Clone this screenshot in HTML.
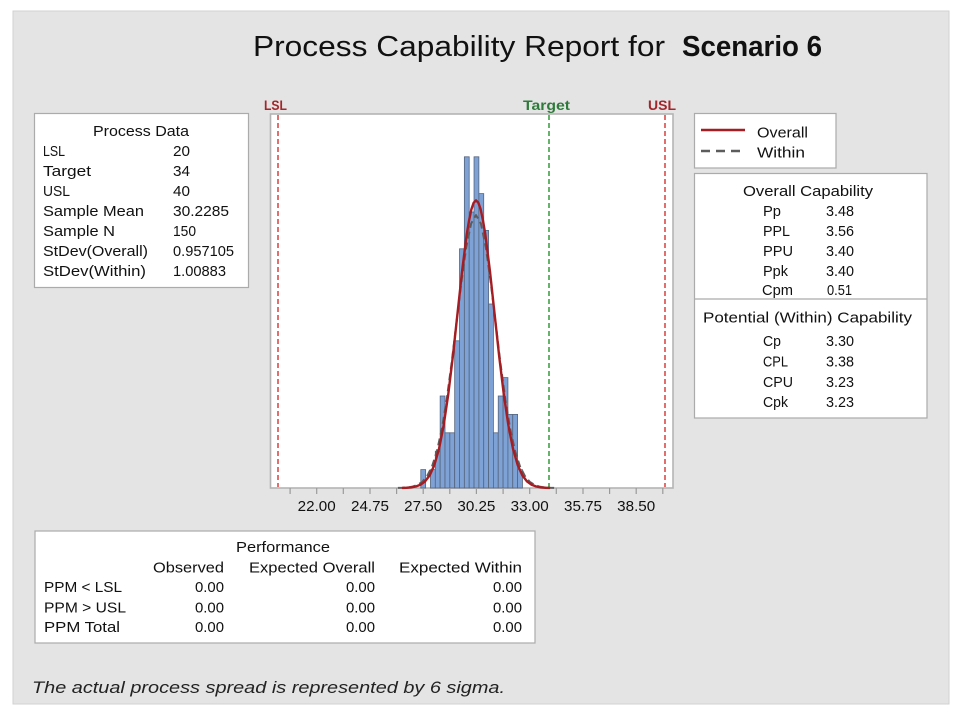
<!DOCTYPE html>
<html>
<head>
<meta charset="utf-8">
<style>
  html,body{margin:0;padding:0;background:#ffffff;}
  svg{display:block;}
  text{font-family:"Liberation Sans",Arial,sans-serif;fill:#111;}
</style>
</head>
<body>
<svg width="960" height="720" viewBox="0 0 960 720" xmlns="http://www.w3.org/2000/svg">
  <!-- background panel -->
  <rect x="0" y="0" width="960" height="720" fill="#ffffff"/>
  <rect x="13" y="11" width="936" height="693" fill="#e4e4e4" stroke="#d2d2d2" stroke-width="1"/>

  <!-- Title -->
  <text x="253" y="56" font-size="29" textLength="412" lengthAdjust="spacingAndGlyphs">Process Capability Report for</text>
  <text x="682" y="56" font-size="29" font-weight="bold" textLength="140" lengthAdjust="spacingAndGlyphs">Scenario 6</text>

  <!-- Process Data box -->
  <rect x="34.5" y="113.5" width="214" height="174" fill="#ffffff" stroke="#ababab" stroke-width="1.2"/>
  <g font-size="15">
    <text x="93" y="136" textLength="96" lengthAdjust="spacingAndGlyphs">Process Data</text>
    <text x="43" y="156" textLength="22" lengthAdjust="spacingAndGlyphs">LSL</text>
    <text x="43" y="176" textLength="48" lengthAdjust="spacingAndGlyphs">Target</text>
    <text x="43" y="196" textLength="27" lengthAdjust="spacingAndGlyphs">USL</text>
    <text x="43" y="216" textLength="101" lengthAdjust="spacingAndGlyphs">Sample Mean</text>
    <text x="43" y="236" textLength="72" lengthAdjust="spacingAndGlyphs">Sample N</text>
    <text x="43" y="256" textLength="105" lengthAdjust="spacingAndGlyphs">StDev(Overall)</text>
    <text x="43" y="276" textLength="103" lengthAdjust="spacingAndGlyphs">StDev(Within)</text>
    <text x="173" y="156" textLength="17" lengthAdjust="spacingAndGlyphs">20</text>
    <text x="173" y="176" textLength="17" lengthAdjust="spacingAndGlyphs">34</text>
    <text x="173" y="196" textLength="17" lengthAdjust="spacingAndGlyphs">40</text>
    <text x="173" y="216" textLength="56" lengthAdjust="spacingAndGlyphs">30.2285</text>
    <text x="173" y="236" textLength="23" lengthAdjust="spacingAndGlyphs">150</text>
    <text x="173" y="256" textLength="61" lengthAdjust="spacingAndGlyphs">0.957105</text>
    <text x="173" y="276" textLength="53" lengthAdjust="spacingAndGlyphs">1.00883</text>
  </g>

  <!-- Plot area -->
  <rect x="270.5" y="114" width="402.5" height="374" fill="#ffffff" stroke="#b4b4b4" stroke-width="1.6"/>

  <!-- Histogram bars -->
  <g fill="#7ea2d6" stroke="#55657e" stroke-width="0.8">
    <rect x="420.80" y="469.6" width="4.84" height="18.4"/>
    <rect x="430.48" y="469.6" width="4.84" height="18.4"/>
    <rect x="435.32" y="451.2" width="4.84" height="36.8"/>
    <rect x="440.16" y="396.0" width="4.84" height="92.0"/>
    <rect x="445.00" y="432.8" width="4.84" height="55.2"/>
    <rect x="449.84" y="432.8" width="4.84" height="55.2"/>
    <rect x="454.68" y="340.8" width="4.84" height="147.2"/>
    <rect x="459.52" y="248.8" width="4.84" height="239.2"/>
    <rect x="464.36" y="156.8" width="4.84" height="331.2"/>
    <rect x="469.20" y="212.0" width="4.84" height="276.0"/>
    <rect x="474.04" y="156.8" width="4.84" height="331.2"/>
    <rect x="478.88" y="193.6" width="4.84" height="294.4"/>
    <rect x="483.72" y="230.4" width="4.84" height="257.6"/>
    <rect x="488.56" y="304.0" width="4.84" height="184.0"/>
    <rect x="493.40" y="432.8" width="4.84" height="55.2"/>
    <rect x="498.24" y="396.0" width="4.84" height="92.0"/>
    <rect x="503.08" y="377.6" width="4.84" height="110.4"/>
    <rect x="507.92" y="414.4" width="4.84" height="73.6"/>
    <rect x="512.76" y="414.4" width="4.84" height="73.6"/>
    <rect x="517.60" y="469.6" width="4.84" height="18.4"/>
  </g>

  <!-- Spec lines -->
  <line x1="278" y1="115" x2="278" y2="487" stroke="#dc4b4b" stroke-width="1.6" stroke-dasharray="5,3"/>
  <line x1="549" y1="115" x2="549" y2="487" stroke="#3ea245" stroke-width="1.6" stroke-dasharray="5,3"/>
  <line x1="665" y1="115" x2="665" y2="487" stroke="#dc4b4b" stroke-width="1.6" stroke-dasharray="5,3"/>

  <!-- Within curve (dashed grey) -->
  <polyline fill="none" stroke="#5c5c5c" stroke-width="2" stroke-dasharray="7,4" stroke-linejoin="round"
    points="397.90,487.9 402.78,487.76 407.66,487.4 412.55,486.6 417.43,485.0 422.31,481.8 427.19,476.0 432.08,466.3 436.96,451.1 441.84,429.0 446.72,399.4 451.61,363.1 456.49,322.5 461.37,282.0 466.25,247.2 471.14,223.5 476.02,215.1 480.90,223.5 485.79,247.2 490.67,282.0 495.55,322.5 500.43,363.1 505.32,399.4 510.20,429.0 515.08,451.1 519.96,466.3 524.85,476.0 529.73,481.8 534.61,485.0 539.49,486.6 544.38,487.4 549.26,487.76 554.14,487.9"/>

  <!-- Overall curve (solid red) -->
  <polyline fill="none" stroke="#a51d22" stroke-width="2.4" stroke-linejoin="round"
    points="401.90,487.9 406.53,487.75 411.16,487.4 415.80,486.5 420.43,484.8 425.06,481.4 429.69,475.4 434.33,465.1 438.96,449.1 443.59,425.8 448.22,394.6 452.86,356.3 457.49,313.6 462.12,270.9 466.75,234.2 469.07,220.5 471.39,209.3 473.70,202.7 476.02,200.4 478.34,202.7 480.65,209.3 482.97,220.5 485.29,234.2 489.92,270.9 494.55,313.6 499.18,356.3 503.82,394.6 508.45,425.8 513.08,449.1 517.71,465.1 522.35,475.4 526.98,481.4 531.61,484.8 536.24,486.5 540.88,487.4 545.51,487.75 550.14,487.9"/>

  <!-- Spec labels -->
  <g font-size="14" font-weight="bold">
    <text x="264" y="110" fill="#a3262a" style="fill:#a3262a" textLength="23" lengthAdjust="spacingAndGlyphs">LSL</text>
    <text x="523" y="110" style="fill:#2e7a3a" textLength="47" lengthAdjust="spacingAndGlyphs">Target</text>
    <text x="648" y="110" style="fill:#a3262a" textLength="28" lengthAdjust="spacingAndGlyphs">USL</text>
  </g>

  <!-- X-axis ticks -->
  <g stroke="#9a9a9a" stroke-width="1.2">
    <line x1="290.1" y1="488" x2="290.1" y2="494"/>
    <line x1="316.7" y1="488" x2="316.7" y2="494"/>
    <line x1="343.3" y1="488" x2="343.3" y2="494"/>
    <line x1="370.0" y1="488" x2="370.0" y2="494"/>
    <line x1="396.6" y1="488" x2="396.6" y2="494"/>
    <line x1="423.2" y1="488" x2="423.2" y2="494"/>
    <line x1="449.8" y1="488" x2="449.8" y2="494"/>
    <line x1="476.4" y1="488" x2="476.4" y2="494"/>
    <line x1="503.1" y1="488" x2="503.1" y2="494"/>
    <line x1="529.7" y1="488" x2="529.7" y2="494"/>
    <line x1="556.3" y1="488" x2="556.3" y2="494"/>
    <line x1="583.0" y1="488" x2="583.0" y2="494"/>
    <line x1="609.6" y1="488" x2="609.6" y2="494"/>
    <line x1="636.2" y1="488" x2="636.2" y2="494"/>
    <line x1="662.8" y1="488" x2="662.8" y2="494"/>
  </g>
  <g font-size="15" text-anchor="middle">
    <text x="316.7" y="511" textLength="38" lengthAdjust="spacingAndGlyphs">22.00</text>
    <text x="370.0" y="511" textLength="38" lengthAdjust="spacingAndGlyphs">24.75</text>
    <text x="423.2" y="511" textLength="38" lengthAdjust="spacingAndGlyphs">27.50</text>
    <text x="476.4" y="511" textLength="38" lengthAdjust="spacingAndGlyphs">30.25</text>
    <text x="529.7" y="511" textLength="38" lengthAdjust="spacingAndGlyphs">33.00</text>
    <text x="583.0" y="511" textLength="38" lengthAdjust="spacingAndGlyphs">35.75</text>
    <text x="636.2" y="511" textLength="38" lengthAdjust="spacingAndGlyphs">38.50</text>
  </g>

  <!-- Legend -->
  <rect x="694.5" y="113.5" width="141.5" height="54.5" fill="#ffffff" stroke="#ababab" stroke-width="1.2"/>
  <line x1="701" y1="130" x2="745" y2="130" stroke="#a51d22" stroke-width="2.5"/>
  <line x1="701" y1="151" x2="745" y2="151" stroke="#5c5c5c" stroke-width="2.5" stroke-dasharray="9,6"/>
  <g font-size="15">
    <text x="757" y="137.5" textLength="51" lengthAdjust="spacingAndGlyphs">Overall</text>
    <text x="757" y="157.5" textLength="48" lengthAdjust="spacingAndGlyphs">Within</text>
  </g>

  <!-- Capability box -->
  <rect x="694.5" y="173.5" width="232.5" height="244.5" fill="#ffffff" stroke="#ababab" stroke-width="1.2"/>
  <line x1="694.5" y1="299" x2="927" y2="299" stroke="#ababab" stroke-width="1.2"/>
  <g font-size="15">
    <text x="743" y="196" textLength="130" lengthAdjust="spacingAndGlyphs">Overall Capability</text>
    <text x="763" y="216" textLength="18" lengthAdjust="spacingAndGlyphs">Pp</text>
    <text x="763" y="236" textLength="27" lengthAdjust="spacingAndGlyphs">PPL</text>
    <text x="763" y="256" textLength="30" lengthAdjust="spacingAndGlyphs">PPU</text>
    <text x="763" y="276" textLength="25" lengthAdjust="spacingAndGlyphs">Ppk</text>
    <text x="762" y="295" textLength="31" lengthAdjust="spacingAndGlyphs">Cpm</text>
    <text x="826" y="216" textLength="28" lengthAdjust="spacingAndGlyphs">3.48</text>
    <text x="826" y="236" textLength="28" lengthAdjust="spacingAndGlyphs">3.56</text>
    <text x="826" y="256" textLength="28" lengthAdjust="spacingAndGlyphs">3.40</text>
    <text x="826" y="276" textLength="28" lengthAdjust="spacingAndGlyphs">3.40</text>
    <text x="827" y="295" textLength="25" lengthAdjust="spacingAndGlyphs">0.51</text>

    <text x="703" y="322.5" textLength="209" lengthAdjust="spacingAndGlyphs">Potential (Within) Capability</text>
    <text x="763" y="346" textLength="18" lengthAdjust="spacingAndGlyphs">Cp</text>
    <text x="763" y="366.5" textLength="25" lengthAdjust="spacingAndGlyphs">CPL</text>
    <text x="763" y="387" textLength="30" lengthAdjust="spacingAndGlyphs">CPU</text>
    <text x="763" y="407" textLength="25" lengthAdjust="spacingAndGlyphs">Cpk</text>
    <text x="826" y="346" textLength="28" lengthAdjust="spacingAndGlyphs">3.30</text>
    <text x="826" y="366.5" textLength="28" lengthAdjust="spacingAndGlyphs">3.38</text>
    <text x="826" y="387" textLength="28" lengthAdjust="spacingAndGlyphs">3.23</text>
    <text x="826" y="407" textLength="28" lengthAdjust="spacingAndGlyphs">3.23</text>
  </g>

  <!-- Performance box -->
  <rect x="35" y="531" width="500" height="112" fill="#ffffff" stroke="#ababab" stroke-width="1.2"/>
  <g font-size="15">
    <text x="236" y="552" textLength="94" lengthAdjust="spacingAndGlyphs">Performance</text>
    <text x="153" y="572.5" textLength="71" lengthAdjust="spacingAndGlyphs">Observed</text>
    <text x="249" y="572.5" textLength="126" lengthAdjust="spacingAndGlyphs">Expected Overall</text>
    <text x="399" y="572.5" textLength="123" lengthAdjust="spacingAndGlyphs">Expected Within</text>
    <text x="44" y="592" textLength="78" lengthAdjust="spacingAndGlyphs">PPM &lt; LSL</text>
    <text x="44" y="612.5" textLength="82" lengthAdjust="spacingAndGlyphs">PPM &gt; USL</text>
    <text x="44" y="632" textLength="76" lengthAdjust="spacingAndGlyphs">PPM Total</text>
    <g text-anchor="end">
      <text x="224" y="592" textLength="29" lengthAdjust="spacingAndGlyphs">0.00</text>
      <text x="375" y="592" textLength="29" lengthAdjust="spacingAndGlyphs">0.00</text>
      <text x="522" y="592" textLength="29" lengthAdjust="spacingAndGlyphs">0.00</text>
      <text x="224" y="612.5" textLength="29" lengthAdjust="spacingAndGlyphs">0.00</text>
      <text x="375" y="612.5" textLength="29" lengthAdjust="spacingAndGlyphs">0.00</text>
      <text x="522" y="612.5" textLength="29" lengthAdjust="spacingAndGlyphs">0.00</text>
      <text x="224" y="632" textLength="29" lengthAdjust="spacingAndGlyphs">0.00</text>
      <text x="375" y="632" textLength="29" lengthAdjust="spacingAndGlyphs">0.00</text>
      <text x="522" y="632" textLength="29" lengthAdjust="spacingAndGlyphs">0.00</text>
    </g>
  </g>

  <!-- Footer -->
  <text x="32" y="693" font-size="17" font-style="italic" style="fill:#222" textLength="473" lengthAdjust="spacingAndGlyphs">The actual process spread is represented by 6 sigma.</text>
</svg>
</body>
</html>
